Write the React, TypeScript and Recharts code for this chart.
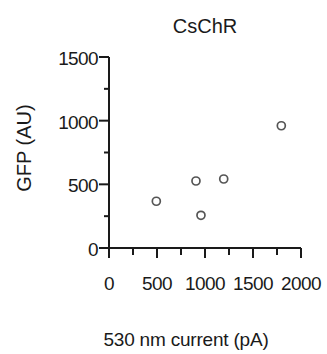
import React from 'react';
import { ScatterChart, Scatter, XAxis, YAxis, Label } from 'recharts';

// values
const currentPA = [493, 906, 958, 1195, 1795];
const gfpAU = [367, 526, 257, 542, 960];
const xTicks = [0, 250, 500, 750, 1000, 1250, 1500, 1750, 2000];
const yTicks = [0, 250, 500, 750, 1000, 1250, 1500];

const points = currentPA.map((x, i) => ({ x, y: gfpAU[i] }));

const FONT = 'Arial, "Liberation Sans", Helvetica, sans-serif';
const INK = '#1a1a1a';

const YTick = (props: any) => {
  const { x, y, payload } = props;
  const major = payload.value % 500 === 0;
  const len = major ? 10 : 5;
  return (
    <g>
      <line x1={x - len} y1={y} x2={x} y2={y} stroke={INK} strokeWidth={2} />
      {major && (
        <text x={x - 11} y={y + 8} textAnchor="end" fontSize={19} letterSpacing={-0.6} fill={INK} fontFamily={FONT}>
          {payload.value}
        </text>
      )}
    </g>
  );
};

const XTick = (props: any) => {
  const { x, y, payload } = props;
  const major = payload.value % 500 === 0;
  const len = major ? 10 : 7;
  return (
    <g>
      <line x1={x} y1={y} x2={x} y2={y + len} stroke={INK} strokeWidth={2} />
      {major && (
        <text x={x} y={y + 42} textAnchor="middle" fontSize={19} letterSpacing={-0.6} fill={INK} fontFamily={FONT}>
          {payload.value}
        </text>
      )}
    </g>
  );
};

const Ring = (props: any) => (
  <circle cx={props.cx} cy={props.cy} r={4} fill="none" stroke="#555" strokeWidth={1.7} />
);

export default function App() {
  return (
    <div style={{ position: 'absolute', left: 0, top: 0, width: 327, height: 354, background: '#fff' }}>
      <ScatterChart width={327} height={354} margin={{ top: 57, right: 26, left: 0, bottom: 0 }}>
        <XAxis
          type="number"
          dataKey="x"
          domain={[0, 2000]}
          ticks={xTicks}
          interval={0}
          height={106}
          tickSize={0}
          tickMargin={0}
          tick={<XTick />}
          axisLine={{ stroke: INK, strokeWidth: 2 }}
        >
          <Label
            content={() => (
              <g>
                <text x={205} y={33} textAnchor="middle" fontSize={20} fill={INK} fontFamily={FONT}>
                  CsChR
                </text>
                <text x={186} y={346} textAnchor="middle" fontSize={19} letterSpacing={-0.2} fill={INK} fontFamily={FONT}>
                  530 nm current (pA)
                </text>
              </g>
            )}
          />
        </XAxis>
        <YAxis
          type="number"
          dataKey="y"
          domain={[0, 1500]}
          ticks={yTicks}
          interval={0}
          width={109}
          tickSize={0}
          tickMargin={0}
          tick={<YTick />}
          axisLine={{ stroke: INK, strokeWidth: 2 }}
        >
          <Label
            content={() => (
              <text
                x={31}
                y={148}
                transform="rotate(-90 31 148)"
                textAnchor="middle"
                fontSize={20}
                fill={INK}
                fontFamily={FONT}
              >
                GFP (AU)
              </text>
            )}
          />
        </YAxis>
        <Scatter data={points} shape={<Ring />} isAnimationActive={false} />
      </ScatterChart>
    </div>
  );
}
